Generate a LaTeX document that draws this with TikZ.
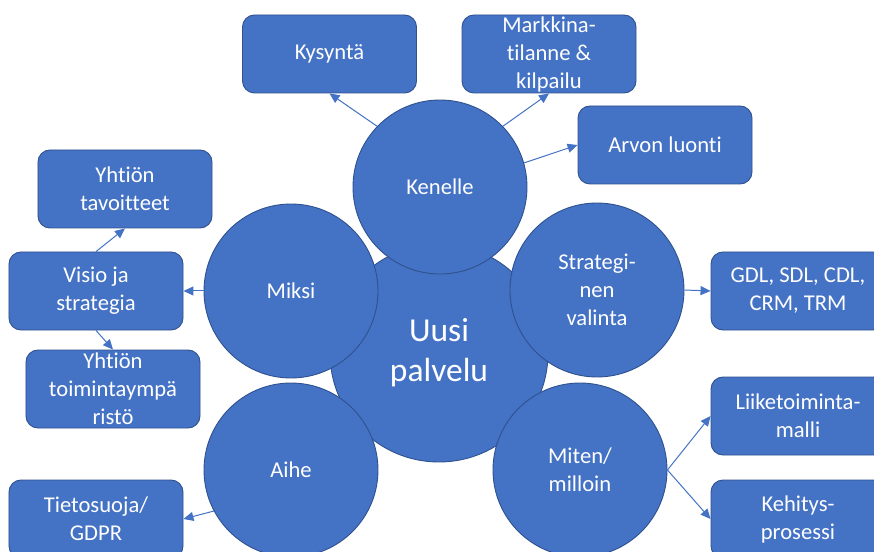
\documentclass[tikz,border=0pt]{standalone}
\usepackage{fontspec}
\setmainfont{Carlito}[Ligatures=NoCommon]
\usetikzlibrary{arrows.meta}
\definecolor{officeblue}{HTML}{4472C4}
\definecolor{officeedge}{HTML}{2F528F}
\begin{document}
\begin{tikzpicture}[x=1bp,y=-1bp,
  bubble/.style={circle, fill=officeblue, draw=officeedge, line width=0.9bp,
    minimum size=174bp, inner sep=0pt, text=white, align=center,
    font=\fontsize{22.6bp}{28bp}\selectfont},
  hub/.style={bubble, minimum size=218bp, font=\fontsize{33.5bp}{40bp}\selectfont},
  topic/.style={rectangle, rounded corners=12bp, fill=officeblue, draw=officeedge,
    line width=0.9bp, minimum width=174bp, minimum height=78bp, inner sep=0pt,
    text=white, align=center, font=\fontsize{22.6bp}{28bp}\selectfont},
  link/.style={draw=officeblue, line width=1bp,
    -{Triangle[length=10bp,width=9bp]}}]
\useasboundingbox (0,0) rectangle (874,552);
\fill[white] (0,0) rectangle (874,552);

% central idea and the five questions around it
\node[hub] (uusi) at (439,353) {Uusi\\palvelu};
\node[bubble] (kenelle) at (440,187) {Kenelle};
\node[bubble] (miksi) at (291,291) {Miksi};
\node[bubble] (strat) at (597,290) {Strategi-\\nen\\valinta};
\node[bubble] (miten) at (580,470) {Miten/\\milloin};
\node[bubble] (aihe) at (291,470) {Aihe};

% detail boxes
\node[topic] (kysynta) at (329.5,54) {Kysyntä};
\node[topic] (markkina) at (549,54) {Markkina-\\tilanne \&\\kilpailu};
\node[topic] (arvo) at (665,145) {Arvon luonti};
\node[topic] (tavoite) at (125,189) {Yhtiön\\tavoitteet};
\node[topic] (visio) at (96,291) {Visio ja\\strategia};
\node[topic] (ymparisto) at (113,389) {Yhtiön\\toimintaympä\\ristö};
\node[topic] (tieto) at (96,519) {Tietosuoja/\\GDPR};
\node[topic] (gdl) at (798,291) {GDL, SDL, CDL,\\CRM, TRM};
\node[topic] (liike) at (798,416) {Liiketoiminta-\\malli};
\node[topic] (kehitys) at (798,519) {Kehitys-\\prosessi};

% connectors
\draw[link] (kenelle.136) -- (kysynta.south);
\draw[link] (kenelle.44) -- (markkina.south);
\draw[link] (kenelle.16) -- (arvo.west);
\draw[link] (miksi.west) -- (visio.east);
\draw[link] (visio.north) -- (tavoite.south);
\draw[link] (visio.south) -- (ymparisto.north);
\draw[link] (strat.east) -- (gdl.west);
\draw[link] (miten.east) -- (liike.west);
\draw[link] (miten.east) -- (kehitys.west);
\draw[link] (aihe.208) -- (tieto.east);
\end{tikzpicture}
\end{document}
